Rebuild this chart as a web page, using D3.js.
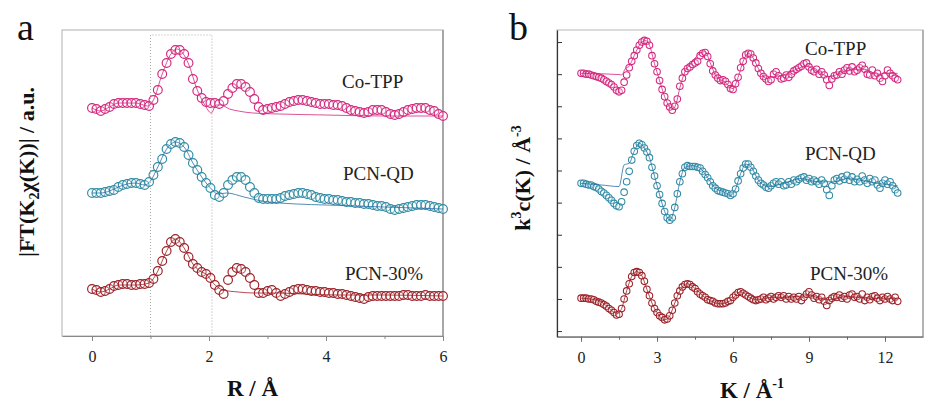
<!DOCTYPE html>
<html>
<head>
<meta charset="utf-8">
<script src="https://cdn.jsdelivr.net/npm/d3@7"></script>
<style>
  body { margin: 0; background: #fff; }
  svg { display: block; font-family: "Liberation Serif", "Times New Roman", serif; }
</style>
</head>
<body>
<div id="chart"></div>
<script>
// series names and colours
const seriesNames = ['Co-TPP', 'PCN-QD', 'PCN-30%'];
const seriesColors = ['#d4267e', '#2f8ba4', '#9b1f26'];
const fitColors = ['#d4267e', '#2a6fa6', '#9b1f26'];

// ---- panel a : |FT| vs R, R grid from 0 with step rStep (stacked, a.u.)
const rStep = 0.075;
const ftCoTPP = [
  2.28, 2.27, 2.25, 2.27, 2.29, 2.32, 2.33, 2.33, 2.33, 2.33,
  2.33, 2.32, 2.31, 2.30, 2.36, 2.46, 2.62, 2.73, 2.82, 2.86,
  2.86, 2.82, 2.73, 2.57, 2.45, 2.38, 2.34, 2.33, 2.33, 2.32,
  2.35, 2.42, 2.48, 2.52, 2.52, 2.49, 2.44, 2.37, 2.29, 2.26,
  2.27, 2.28, 2.29, 2.30, 2.32, 2.34, 2.35, 2.36, 2.36, 2.35,
  2.34, 2.33, 2.32, 2.32, 2.32, 2.31, 2.31, 2.30, 2.28, 2.26,
  2.25, 2.24, 2.23, 2.24, 2.26, 2.26, 2.26, 2.24, 2.22, 2.21,
  2.22, 2.24, 2.26, 2.27, 2.28, 2.28, 2.28, 2.26, 2.25, 2.22,
  2.20
];
const ftPCNQD = [
  1.43, 1.43, 1.43, 1.44, 1.45, 1.46, 1.49, 1.51, 1.52, 1.53,
  1.53, 1.52, 1.51, 1.54, 1.61, 1.69, 1.77, 1.87, 1.92, 1.94,
  1.93, 1.89, 1.81, 1.73, 1.66, 1.59, 1.53, 1.48, 1.41, 1.39,
  1.43, 1.51, 1.56, 1.59, 1.59, 1.56, 1.49, 1.43, 1.38, 1.37,
  1.37, 1.37, 1.37, 1.38, 1.40, 1.41, 1.42, 1.43, 1.43, 1.42,
  1.41, 1.39, 1.38, 1.37, 1.37, 1.36, 1.36, 1.35, 1.34, 1.34,
  1.33, 1.33, 1.32, 1.32, 1.31, 1.30, 1.30, 1.29, 1.27, 1.26,
  1.27, 1.28, 1.29, 1.30, 1.31, 1.31, 1.31, 1.30, 1.29, 1.28,
  1.27
];
const ftPCN30 = [
  0.47, 0.46, 0.44, 0.45, 0.47, 0.50, 0.51, 0.52, 0.52, 0.51,
  0.51, 0.52, 0.52, 0.53, 0.57, 0.65, 0.75, 0.85, 0.94, 0.97,
  0.94, 0.88, 0.79, 0.72, 0.68, 0.64, 0.62, 0.58, 0.51, 0.46,
  0.42, 0.56, 0.64, 0.68, 0.67, 0.64, 0.58, 0.51, 0.43, 0.43,
  0.45, 0.46, 0.43, 0.40, 0.42, 0.44, 0.46, 0.47, 0.47, 0.46,
  0.45, 0.45, 0.44, 0.44, 0.43, 0.43, 0.42, 0.42, 0.41, 0.40,
  0.39, 0.38, 0.37, 0.39, 0.40, 0.40, 0.40, 0.40, 0.40, 0.40,
  0.40, 0.41, 0.41, 0.40, 0.40, 0.40, 0.41, 0.40, 0.40, 0.40,
  0.40
];
// fits, [R, |FT|]
const ftFitCoTPP = [
  [0, 2.28], [0.15, 2.25], [0.3, 2.29], [0.45, 2.33], [0.75, 2.33], [0.95, 2.30],
  [1.05, 2.36], [1.2, 2.62], [1.35, 2.82], [1.45, 2.87], [1.55, 2.83], [1.65, 2.72],
  [1.8, 2.46], [1.92, 2.32], [2.04, 2.23], [2.12, 2.31], [2.2, 2.31], [2.35, 2.27],
  [2.5, 2.25], [2.75, 2.23], [3.2, 2.22], [4.0, 2.21], [5.0, 2.20], [6.0, 2.20]
];
const ftFitPCNQD = [
  [0, 1.43], [0.15, 1.43], [0.3, 1.45], [0.45, 1.49], [0.6, 1.52], [0.75, 1.53],
  [0.9, 1.51], [1.0, 1.55], [1.125, 1.69], [1.275, 1.87], [1.425, 1.94], [1.575, 1.89],
  [1.725, 1.73], [1.875, 1.59], [2.025, 1.48], [2.15, 1.42], [2.3, 1.43], [2.6, 1.39],
  [2.9, 1.35], [3.5, 1.32], [4.0, 1.31], [5.0, 1.29], [6.0, 1.27]
];
const ftFitPCN30 = [
  [0, 0.47], [0.15, 0.44], [0.3, 0.47], [0.45, 0.51], [0.75, 0.51], [0.975, 0.53],
  [1.125, 0.65], [1.275, 0.85], [1.425, 0.97], [1.575, 0.88], [1.725, 0.72], [1.875, 0.64],
  [1.95, 0.62], [2.07, 0.53], [2.24, 0.46], [2.5, 0.44], [2.76, 0.43], [3.2, 0.43],
  [3.6, 0.42], [4.2, 0.41], [5.0, 0.41], [6.0, 0.40]
];
const fitWindowR = [1.0, 2.05];
const rTicks = [0, 2, 4, 6];
const rMinorTicks = [1, 3, 5];

// ---- panel b : k3 chi(k), k grid from 0 with step kStep, shifted by chiOffsets
const kStep = 0.1;
const chiOffsets = [32.1, 18.4, 4.1];
const chiCoTPP = [
  0, 0, -0.1, -0.1, -0.2, -0.3, -0.4, -0.5, -0.6, -0.8,
  -1.0, -1.2, -1.4, -1.7, -2.1, -2.3, -2.1, -1.1, -0.2, 0.7,
  1.5, 2.2, 2.9, 3.5, 3.9, 4.1, 4.0, 3.5, 2.2, 1.2,
  0.2, -0.9, -2.0, -2.9, -3.7, -4.2, -4.6, -4.1, -3.2, -1.6,
  -0.6, 0.2, 0.6, 0.8, 1.1, 1.3, 1.5, 2.2, 2.5, 2.6,
  2.1, 1.2, 0.3, -0.2, -0.6, -0.9, -0.8, -1.0, -1.4, -1.9,
  -2.0, -1.3, -0.5, 0.7, 1.5, 2.3, 2.5, 2.4, 1.9, 1.3,
  0.6, 0, -0.4, -0.7, -1.0, -0.8, -0.1, 0.2, -0.3, -0.7,
  -0.6, -0.2, -0.5, -0.1, 0.3, 0.5, 0.7, 0.9, 1.2, 1.3,
  0.8, 0.4, 0.2, 0.5, -0.1, 0.2, -0.2, -0.8, -1.5, -0.7,
  -0.3, -0.2, 0.2, -0.1, 0.4, 0.7, 0.3, 0.8, 0.2, 0.4,
  0.7, 1.0, 0.5, -0.1, -0.2, 0.4, -0.3, 0, -0.6, -1.0,
  -0.3, 0.4, 0, -0.3, -0.6, -0.8
];
const chiPCNQD = [
  0, 0, -0.1, -0.2, -0.2, -0.4, -0.5, -0.7, -1.0, -1.2,
  -1.5, -1.8, -2.1, -2.5, -2.8, -2.9, -2.3, -1.1, 0.2, 1.5,
  2.9, 4.0, 4.7, 5.0, 4.8, 4.4, 3.9, 3.2, 2.0, 0.9,
  -0.3, -1.4, -2.5, -3.5, -4.3, -4.6, -4.3, -3.0, -1.3, 0.2,
  1.2, 2.0, 2.2, 2.1, 2.1, 2.1, 2.0, 1.9, 1.5, 1.1,
  0.7, 0.2, -0.3, -0.6, -0.9, -1.0, -1.1, -1.2, -1.3, -1.5,
  -1.3, -0.7, 0.3, 1.2, 1.9, 2.4, 2.4, 2.0, 1.5, 0.9,
  0.4, 0, -0.2, -0.5, -0.6, -0.3, 0, 0.2, -0.1, 0.2,
  -0.3, -0.2, 0.2, -0.1, 0.4, 0.2, 0.5, 0.7, 0.8, 0.4,
  0.6, 0.2, 0.4, 0.2, -0.1, 0.4, 0, -0.8, -1.5, -0.3,
  0.4, 0.6, 0.3, 0.8, 0.5, 1.0, 0.4, 0.8, 0.2, 0.5,
  0.2, 0.9, 0.4, 0, 0.6, 0.2, 0.4, -0.2, -0.6, 0,
  0.4, -0.1, 0.2, -0.3, -0.8, -1.2
];
const chiPCN30 = [
  0, 0, 0, -0.1, -0.1, -0.2, -0.4, -0.5, -0.6, -0.8,
  -1.0, -1.3, -1.5, -1.8, -2.1, -2.0, -1.3, -0.1, 0.9, 1.8,
  2.7, 3.2, 3.3, 3.2, 2.8, 2.1, 1.1, 0.3, -0.6, -1.3,
  -1.8, -2.2, -2.4, -2.7, -2.6, -2.2, -1.5, -0.6, 0.3, 0.9,
  1.4, 1.7, 1.8, 1.7, 1.4, 1.2, 0.8, 0.5, 0.3, 0.1,
  -0.2, -0.3, -0.4, -0.6, -0.7, -0.7, -0.7, -0.6, -0.4, -0.3,
  0.1, 0.4, 0.7, 0.8, 0.6, 0.4, 0.2, 0, -0.2, -0.3,
  -0.2, -0.1, 0.1, -0.2, 0, 0.2, -0.1, 0.1, 0.3, 0.1,
  0.3, -0.1, 0.2, -0.1, 0.1, -0.1, 0.2, -0.3, 0.1, 0.5,
  0.8, 0.4, 0, 0.2, -0.2, 0.1, -0.4, -0.9, -0.3, 0,
  0.2, 0.1, 0.4, 0, 0.2, -0.1, 0.4, 0.5, 0.1, 0.2,
  -0.1, 0.5, -0.3, 0.1, -0.2, 0.2, 0.3, 0, -0.3, 0.1,
  -0.1, 0.2, -0.1, -0.3, 0.1, -0.4
];
// fits, [k, chi]
const chiFitCoTPP = [
  [0, 0], [1.5, -0.15], [1.6, -0.2], [1.75, 0.6], [1.9, 0.9], [2.0, 1.5], [2.2, 2.9],
  [2.4, 3.9], [2.55, 4.1], [2.7, 3.5], [2.9, 1.2], [3.1, -0.9], [3.3, -2.9], [3.5, -4.2],
  [3.6, -4.5], [3.75, -3.8], [3.9, -1.8], [4.1, 0.2], [4.3, 1.1], [4.5, 1.9], [4.7, 2.5],
  [4.9, 2.7], [5.1, 1.3], [5.3, -0.2], [5.5, -0.8], [5.7, -1.1], [5.9, -1.8], [6.0, -1.9],
  [6.2, -0.5], [6.4, 1.5], [6.6, 2.5], [6.8, 1.9], [7.0, 0.6], [7.3, -0.6], [7.6, -0.4],
  [8.0, -0.2], [8.5, 0.5], [8.9, 0.9], [9.3, 0.3], [9.8, -0.4], [10.3, 0.1], [10.8, 0.5],
  [11.2, 0.5], [11.7, -0.1], [12.1, 0], [12.5, 0]
];
const chiFitPCNQD = [
  [0, 0], [0.8, -0.2], [1.5, -0.4], [1.7, 2.3], [1.9, 2.5], [2.1, 4.0], [2.3, 5.0],
  [2.5, 4.4], [2.7, 3.2], [2.9, 0.9], [3.1, -1.4], [3.3, -3.5], [3.5, -4.6], [3.7, -3.0],
  [3.9, 0.2], [4.1, 2.0], [4.4, 2.2], [4.7, 1.9], [5.0, 0.7], [5.3, -0.6], [5.6, -1.0],
  [5.9, -1.5], [6.1, -0.7], [6.3, 1.2], [6.5, 2.4], [6.7, 2.1], [7.0, 0.4], [7.4, -0.4],
  [8.0, 0], [8.7, 0.6], [9.3, 0.2], [10.0, 0.2], [10.5, 0.6], [11.0, 0.4], [11.7, 0],
  [12.5, -0.3]
];
const chiFitPCN30 = [
  [0, 0], [0.7, -0.3], [1.45, -1.9], [1.6, -1.3], [1.8, 0.9], [2.0, 2.7], [2.2, 3.3],
  [2.4, 2.8], [2.6, 1.1], [2.8, -0.6], [3.0, -1.8], [3.3, -2.7], [3.5, -2.2], [3.7, -0.6],
  [3.9, 0.9], [4.2, 1.8], [4.5, 1.2], [4.8, 0.3], [5.1, -0.3], [5.5, -0.7], [5.9, -0.3],
  [6.3, 0.8], [6.7, 0], [7.0, -0.2], [7.5, 0.1], [8.0, 0.1], [9.0, 0.3], [9.7, -0.2],
  [10.5, 0.2], [11.3, 0], [12.0, 0], [12.5, -0.1]
];
const kTicks = [0, 3, 6, 9, 12];
const kMinorTicks = [1.5, 4.5, 7.5, 10.5];
const chiTicks = [0, 4, 8, 12, 16, 20, 24, 28, 32, 36];

// ---------------------------------------------------------------
const W = 925, H = 405;
const svg = d3.select('#chart').append('svg')
  .attr('width', W).attr('height', H);

// panel frames (pixels)
const pa = {left: 62, right: 443, top: 30, bottom: 336};
const pb = {left: 557, right: 923, top: 30, bottom: 336.7};

const xa = d3.scaleLinear().domain([-0.513, 6]).range([pa.left, pa.right]);
const ya = d3.scaleLinear().domain([0, 3.06]).range([pa.bottom, pa.top]);
const xb = d3.scaleLinear().domain([-0.95, 13.5]).range([pb.left, pb.right]);
const yb = d3.scaleLinear().domain([-0.7, 37.5]).range([pb.bottom, pb.top]);

// draw one series: open circles + thin fit line
function drawSeries(pts, fit, x, y, color, fitColor, r, sw) {
  const g = svg.append('g');
  g.selectAll('circle').data(pts).join('circle')
    .attr('cx', d => x(d[0]))
    .attr('cy', d => y(d[1]))
    .attr('r', r)
    .attr('fill', '#fff')
    .attr('fill-opacity', 0.3)
    .attr('stroke', color)
    .attr('stroke-width', sw);
  g.append('path')
    .datum(fit)
    .attr('fill', 'none')
    .attr('stroke', fitColor)
    .attr('stroke-width', 0.8)
    .attr('d', d3.line()
      .x(d => x(d[0]))
      .y(d => y(d[1]))
      .curve(d3.curveMonotoneX));
}

function styleAxis(g, color) {
  g.select('.domain').attr('stroke', color).attr('stroke-width', 1.2);
  g.selectAll('.tick line').attr('stroke', color);
  g.selectAll('.tick text')
    .attr('font-family', '"Liberation Serif", serif')
    .attr('font-size', 16)
    .attr('fill', '#222');
}

// ---------------- panel a ----------------
svg.append('rect')
  .attr('x', pa.left).attr('y', pa.top)
  .attr('width', pa.right - pa.left).attr('height', pa.bottom - pa.top)
  .attr('fill', 'none').attr('stroke', '#bdbdbd').attr('stroke-width', 1.2);
svg.append('line')
  .attr('x1', pa.right).attr('x2', pa.right).attr('y1', pa.top).attr('y2', pa.bottom)
  .attr('stroke', '#888').attr('stroke-width', 1.2);

// fitting window (dotted)
const winTop = 35;
svg.append('path')
  .attr('d', `M${xa(fitWindowR[0])},${pa.bottom}V${winTop}H${xa(fitWindowR[1])}V${pa.bottom}`)
  .attr('fill', 'none')
  .attr('stroke', '#aaa')
  .attr('stroke-width', 1)
  .attr('stroke-dasharray', '1,2');

const ftSeries = [ftCoTPP, ftPCNQD, ftPCN30];
const ftFits = [ftFitCoTPP, ftFitPCNQD, ftFitPCN30];
ftSeries.forEach((vals, i) => {
  const pts = vals.map((v, j) => [j * rStep, v]);
  drawSeries(pts, ftFits[i], xa, ya, seriesColors[i], fitColors[i], 4.4, 1.15);
});

const axA = svg.append('g')
  .attr('transform', `translate(0,${pa.bottom})`)
  .call(d3.axisBottom(xa).tickValues(rTicks).tickFormat(d3.format('d'))
    .tickSizeInner(5).tickSizeOuter(0).tickPadding(10));
styleAxis(axA, '#888');
const axAm = svg.append('g')
  .attr('transform', `translate(0,${pa.bottom})`)
  .call(d3.axisBottom(xa).tickValues(rMinorTicks).tickFormat('')
    .tickSizeInner(3).tickSizeOuter(0));
axAm.select('.domain').remove();
axAm.selectAll('.tick line').attr('stroke', '#888');

// ---------------- panel b ----------------
svg.append('rect')
  .attr('x', pb.left).attr('y', pb.top)
  .attr('width', pb.right - pb.left).attr('height', pb.bottom - pb.top)
  .attr('fill', 'none').attr('stroke', '#c4c4c4').attr('stroke-width', 1.2);
svg.append('line')
  .attr('x1', pb.right).attr('x2', pb.right).attr('y1', pb.top).attr('y2', pb.bottom)
  .attr('stroke', '#999').attr('stroke-width', 1.2);

const chiSeries = [chiCoTPP, chiPCNQD, chiPCN30];
const chiFits = [chiFitCoTPP, chiFitPCNQD, chiFitPCN30];
chiSeries.forEach((vals, i) => {
  const off = chiOffsets[i];
  const pts = vals.map((v, j) => [j * kStep, v + off]);
  const fit = chiFits[i].map(d => [d[0], d[1] + off]);
  drawSeries(pts, fit, xb, yb, seriesColors[i], fitColors[i], 3.3, 1.05);
});

const axB = svg.append('g')
  .attr('transform', `translate(0,${pb.bottom})`)
  .call(d3.axisBottom(xb).tickValues(kTicks).tickFormat(d3.format('d'))
    .tickSizeInner(5).tickSizeOuter(0).tickPadding(10));
styleAxis(axB, '#666');
const axBm = svg.append('g')
  .attr('transform', `translate(0,${pb.bottom})`)
  .call(d3.axisBottom(xb).tickValues(kMinorTicks).tickFormat('')
    .tickSizeInner(3).tickSizeOuter(0));
axBm.select('.domain').remove();
axBm.selectAll('.tick line').attr('stroke', '#666');

const ayB = svg.append('g')
  .attr('transform', `translate(${pb.left},0)`)
  .call(d3.axisLeft(yb).tickValues(chiTicks).tickFormat('')
    .tickSizeInner(-5).tickSizeOuter(0));
styleAxis(ayB, '#333');

// ---------------- text ----------------
const seriesLabelsA = [
  {x: 342, y: 88}, {x: 343, y: 180}, {x: 345, y: 280}
];
const seriesLabelsB = [
  {x: 805, y: 55}, {x: 805, y: 160}, {x: 810, y: 280}
];
seriesNames.forEach((name, i) => {
  [seriesLabelsA[i], seriesLabelsB[i]].forEach(p => {
    svg.append('text')
      .attr('x', p.x).attr('y', p.y)
      .attr('font-size', 19)
      .attr('fill', '#222')
      .text(name);
  });
});

// panel letters
svg.append('text').attr('x', 17).attr('y', 40).attr('font-size', 38).attr('fill', '#111').text('a');
svg.append('text').attr('x', 509).attr('y', 40).attr('font-size', 38).attr('fill', '#111').text('b');

// x titles
svg.append('text')
  .attr('x', (pa.left + pa.right) / 2).attr('y', 396)
  .attr('text-anchor', 'middle').attr('font-size', 23).attr('font-weight', 'bold')
  .attr('fill', '#111')
  .text('R / Å');

const kt = svg.append('text')
  .attr('x', 752).attr('y', 398)
  .attr('text-anchor', 'middle').attr('font-size', 23).attr('font-weight', 'bold')
  .attr('fill', '#111');
kt.append('tspan').text('K / Å');
kt.append('tspan').attr('font-size', 14).attr('dy', -10).text('-1');

// y titles
const yta = svg.append('text')
  .attr('transform', 'translate(34,172) rotate(-90)')
  .attr('text-anchor', 'middle').attr('font-size', 22).attr('font-weight', 'bold')
  .attr('fill', '#111');
yta.append('tspan').text('|FT(K');
yta.append('tspan').attr('font-size', 14).attr('dy', 5).text('2');
yta.append('tspan').attr('dy', -5).text('χ(K))| / a.u.');

const ytb = svg.append('text')
  .attr('transform', 'translate(530,178) rotate(-90)')
  .attr('text-anchor', 'middle').attr('font-size', 22).attr('font-weight', 'bold')
  .attr('fill', '#111');
ytb.append('tspan').text('k');
ytb.append('tspan').attr('font-size', 14).attr('dy', -9).text('3');
ytb.append('tspan').attr('dy', 9).text('c(K) / Å');
ytb.append('tspan').attr('font-size', 14).attr('dy', -9).text('-3');
</script>
</body>
</html>
